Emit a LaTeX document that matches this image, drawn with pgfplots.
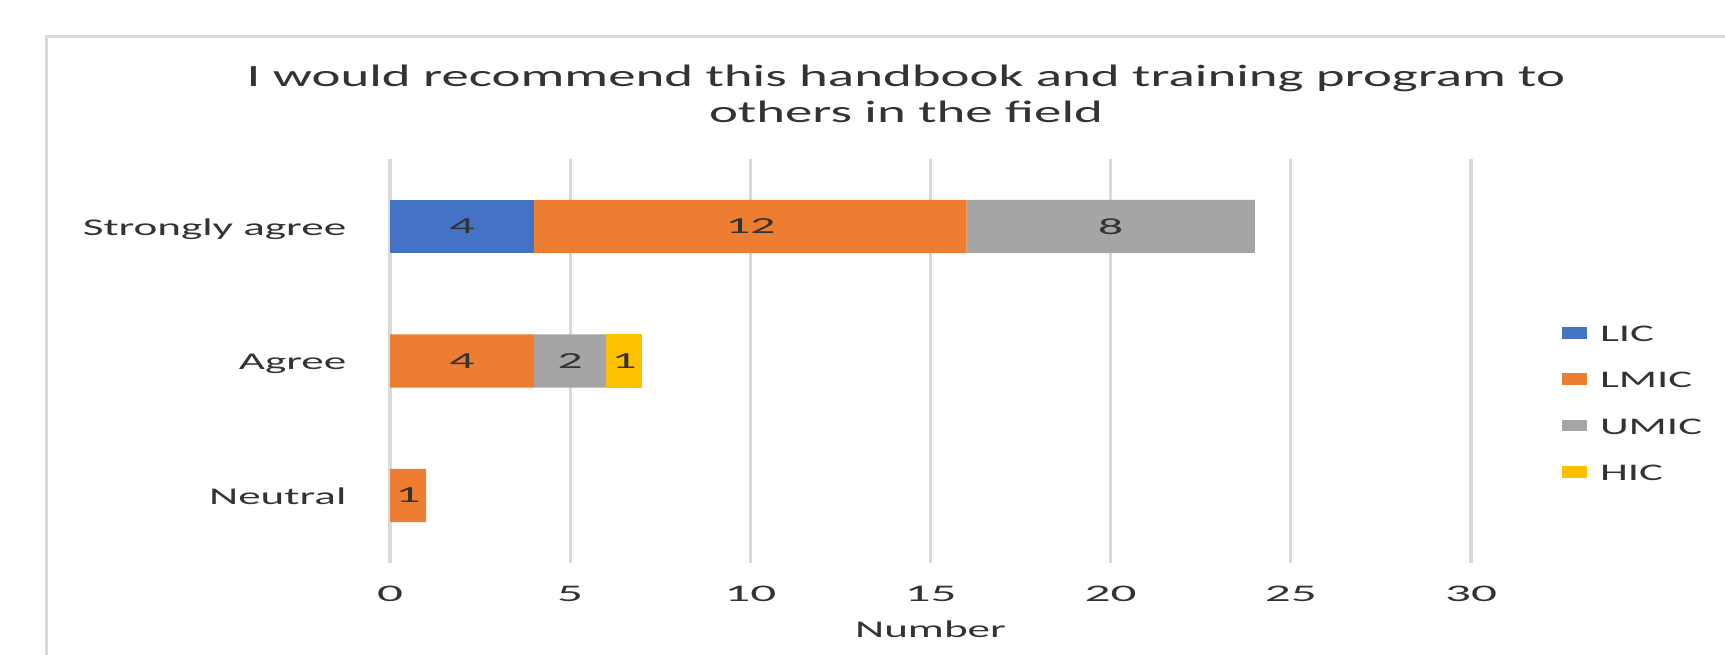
\documentclass[border=0pt]{standalone}
\usepackage{fontspec}
\setmainfont{Carlito}[FakeStretch=1.88]
\newfontfamily\titlefont{Carlito}[FakeStretch=1.77]
\newfontfamily\numfont{Carlito}[FakeStretch=2.15]
\usepackage{pgfplots}
\pgfplotsset{compat=1.18}
\usepackage{pgfplotstable}
\definecolor{cLIC}{HTML}{4472C4}
\definecolor{cLMIC}{HTML}{ED7D31}
\definecolor{cUMIC}{HTML}{A5A5A5}
\definecolor{cHIC}{HTML}{FFC000}
\definecolor{gridc}{HTML}{D9D9D9}
\definecolor{txt}{HTML}{333333}

% y: 0 = Neutral, 1 = Agree, 2 = Strongly agree
\pgfplotstableread{
y v
0 0
1 0
2 4
}\tLIC
\pgfplotstableread{
y v
0 1
1 4
2 12
}\tLMIC
\pgfplotstableread{
y v
0 0
1 2
2 8
}\tUMIC
\pgfplotstableread{
y v
0 0
1 1
2 0
}\tHIC

\begin{document}
\begin{tikzpicture}
\path[use as bounding box] (0,0) rectangle (862.5pt,327pt);
\draw[gridc, line width=1.5pt] (23pt,-5pt) -- (23pt,308.5pt) -- (880pt,308.5pt);
\node[anchor=base, inner sep=0pt, text=txt, font=\titlefont\fontsize{15.5pt}{18pt}\selectfont]
  at (453pt,283.85pt) {I would recommend this handbook and training program to};
\node[anchor=base, inner sep=0pt, text=txt, font=\titlefont\fontsize{15.5pt}{18pt}\selectfont]
  at (453pt,265.85pt) {others in the field};
\begin{axis}[
  at={(195pt,45.65pt)}, anchor=south west,
  scale only axis, width=540.5pt, height=201.7pt,
  xbar stacked, bar width=26.65pt,
  xmin=0, xmax=30, ymin=-0.5, ymax=2.5,
  xtick={0,5,10,15,20,25,30}, ytick={0,1,2},
  yticklabels={Neutral,Agree,Strongly agree},
  axis line style={draw=none},
  tick style={draw=none},
  xmajorgrids, major grid style={gridc, line width=1.6pt},
  /pgf/number format/assume math mode=true,
  xticklabel style={font=\numfont\fontsize{11.9pt}{13pt}\selectfont, text=txt,
    anchor=base, inner sep=0pt, yshift=-19.5pt},
  yticklabel style={font=\fontsize{12pt}{14pt}\selectfont, text=txt,
    anchor=base east, inner sep=0pt, xshift=-21.65pt, yshift=-4.3pt},
  xlabel={Number},
  xlabel style={at={(axis description cs:0.5,0)}, anchor=base, inner sep=0pt,
    yshift=-37.2pt, font=\fontsize{12pt}{14pt}\selectfont, text=txt},
  visualization depends on={\thisrow{v} \as \myv},
  nodes near coords={\pgfmathparse{int(\myv)}\ifnum\pgfmathresult>0 \pgfmathresult\fi},
  every node near coord/.append style={anchor=center, inner sep=0pt,
    font=\numfont\fontsize{11.5pt}{13pt}\selectfont, text=txt},
  legend style={at={(axis description cs:1,0.5)}, anchor=west,
    xshift=45.5pt, yshift=-21.2pt, draw=none, fill=none,
    inner sep=0pt, outer sep=0pt, row sep=15.7pt, column sep=6.5pt,
    font=\fontsize{11.9pt}{13pt}\selectfont, text=txt,
    nodes={inner sep=0pt, text height=7.5pt, text depth=0pt}},
  legend cell align=left,
  legend image code/.code={\fill[#1] (0pt,-2.4pt) rectangle (12.5pt,3.45pt);},
]
\addplot[fill=cLIC, draw=none] table[x=v, y=y] {\tLIC};
\addplot[fill=cLMIC, draw=none] table[x=v, y=y] {\tLMIC};
\addplot[fill=cUMIC, draw=none] table[x=v, y=y] {\tUMIC};
\addplot[fill=cHIC, draw=none] table[x=v, y=y] {\tHIC};
\legend{LIC,LMIC,UMIC,HIC}
\end{axis}
\end{tikzpicture}
\end{document}
